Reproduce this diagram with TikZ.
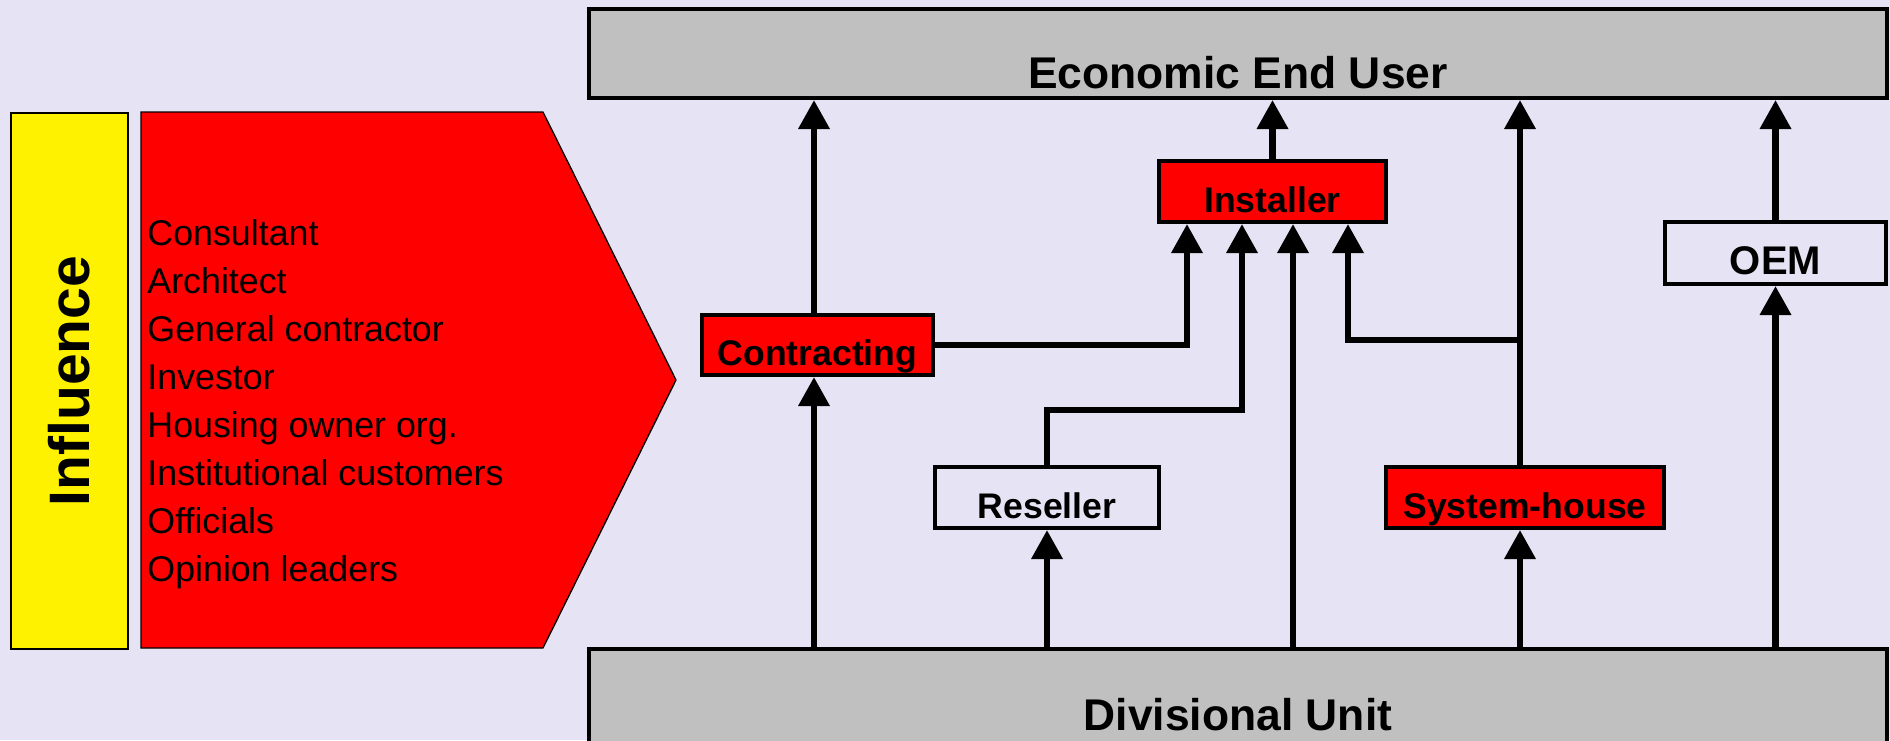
\documentclass[tikz,border=0pt]{standalone}
\usepackage{fontspec}
\setmainfont{Liberation Sans}
\usetikzlibrary{arrows.meta}
\definecolor{bg}{HTML}{E6E4F4}
\definecolor{boxgray}{HTML}{C0C0C0}
\begin{document}
\begin{tikzpicture}[x=0.5pt,y=-0.5pt,
  box/.style={draw=black, line width=2.15pt, inner sep=0pt, text depth=0pt,
    font=\bfseries\fontsize{17.8}{20}\selectfont},
  bigbox/.style={box, fill=boxgray, minimum width=648.85pt,
    font=\bfseries\fontsize{22.2}{24}\selectfont},
  arr/.style={line width=3.3pt, -{Triangle[length=14.5pt,width=15pt]}},
  item/.style={anchor=base west, inner sep=0pt, font=\fontsize{17.9}{20}\selectfont}]
\useasboundingbox (0,0) rectangle (1890,740);
\fill[bg] (0,0) rectangle (1890,740);
\clip (0,0) rectangle (1890,740);

% left side
\node[draw=black, line width=1pt, fill=yellow, rotate=90, minimum width=268pt,
  minimum height=58.5pt, inner sep=0pt,
  font=\bfseries\fontsize{28.5}{30}\selectfont] (infl) at (69.5,381) {Influence};
\draw[fill=red, line width=0.65pt] (141,112) -- (543,112) -- (676,380) -- (543,648) -- (141,648) -- cycle;
\foreach \t [count=\i from 0] in {Consultant,Architect,General contractor,Investor,Housing owner org.,Institutional customers,Officials,Opinion leaders}
  \node[item] (it\i) at (147,245.5+48*\i) {\t};

% boxes
\node[bigbox, minimum height=44.35pt, text height=34.5pt] (eeu) at (1238,53.5) {Economic End User};
\node[bigbox, minimum height=47.35pt, text height=33.5pt] (du) at (1238,696.5) {Divisional Unit};
\node[box, fill=red, minimum width=115.35pt, minimum height=29.85pt, text height=20pt] (con) at (817.5,345) {Contracting};
\node[box, fill=red, minimum width=113.35pt, minimum height=30.35pt, text height=20.5pt] (ins) at (1272.5,191.5) {Installer};
\node[box, minimum width=111.85pt, minimum height=30.35pt, text height=20.5pt] (res) at (1047,497.5) {Reseller};
\node[box, fill=red, minimum width=138.85pt, minimum height=30.35pt, text height=20.5pt] (sys) at (1525,497.5) {System-house};
\node[box, minimum width=110.35pt, minimum height=30.85pt, text height=21pt,
  font=\bfseries\fontsize{20}{22}\selectfont] (oem) at (1775.5,253) {OEM};

% junction coordinates
\coordinate (cj) at (1187,345);
\coordinate (rj) at (1242,410);
\coordinate (sj) at (1520,340);
\coordinate (ij) at (1348,340);

% connectors
\draw[arr] ([xshift=-1.75pt]con.south |- du.north) -- ([xshift=-1.75pt]con.south);
\draw[arr] ([xshift=-1.75pt]con.north) -- ([xshift=-1.75pt]con.north |- eeu.south);
\draw[arr] (res.south |- du.north) -- (res.south);
\draw[arr] (res.north) |- (rj) -- (rj |- ins.south);
\draw[arr] (con.east) -- (cj) -- (cj |- ins.south);
\draw[arr] ([xshift=10.25pt]ins.south |- du.north) -- ([xshift=10.25pt]ins.south);
\draw[arr] ([xshift=-2.5pt]sys.south |- du.north) -- ([xshift=-2.5pt]sys.south);
\draw[arr] ([xshift=-2.5pt]sys.north) -- ([xshift=-2.5pt]sys.north |- eeu.south);
\draw[arr] (sj) -- (ij) -- (ij |- ins.south);
\draw[arr] (ins.north) -- (ins.north |- eeu.south);
\draw[arr] (oem.south |- du.north) -- (oem.south);
\draw[arr] (oem.north) -- (oem.north |- eeu.south);
\end{tikzpicture}
\end{document}
